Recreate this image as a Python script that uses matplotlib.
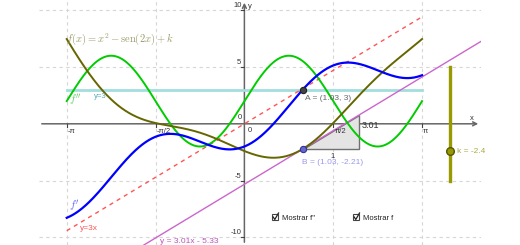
import numpy as np
import matplotlib
matplotlib.use("Agg")
import matplotlib.pyplot as plt
from matplotlib.patches import Polygon, Rectangle

plt.rcParams['font.family'] = ['Liberation Sans', 'DejaVu Sans']
plt.rcParams['mathtext.fontset'] = 'cm'

# values
k = -2.4
x_from, x_to = -np.pi, np.pi
A = (1.03, 3.0)
B = (1.03, -2.21)
slope, intercept = 3.01, -5.33
line_y3 = 3.0
line_3x = 3.0
slider_min, slider_max, slider_x = -5.0, 5.0, 3.63

x_ticks = [-np.pi, -np.pi / 2, np.pi / 2, np.pi]
x_tick_labels = ['-π', '-π/2', 'π/2', 'π']
y_ticks = [-10, -5, 5, 10]
y_tick_labels = ['-10', '-5', '5', '10']

# the curves of the worksheet: f(x) = x^2 - sen(2x) + k and its derivatives
x = np.linspace(x_from, x_to, 600)
f = x**2 - np.sin(2 * x) + k
f1 = 2 * x - 2 * np.cos(2 * x)
f2 = 2 + 4 * np.sin(2 * x)

W, H = 520, 245
fig = plt.figure(figsize=(W / 100, H / 100), dpi=100)
ax = fig.add_axes([39 / W, 0, 442 / W, 1])
ax.set_xlim(-3.632, 4.184)
ax.set_ylim(-10.68, 10.91)
ax.axis('off')

# grid
for xv in x_ticks:
    ax.axvline(xv, color='#d6d6d6', ls=(0, (3, 3)), lw=0.8, zorder=0)
for yv in y_ticks:
    ax.axhline(yv, color='#d6d6d6', ls=(0, (3, 3)), lw=0.8, zorder=0)

# axes with arrows
ax.annotate('', xy=(4.184, 0), xytext=(-3.632, 0),
            arrowprops=dict(arrowstyle='->', color='#666666', lw=1.1, mutation_scale=7), zorder=1)
ax.annotate('', xy=(0, 10.91), xytext=(0, -10.68),
            arrowprops=dict(arrowstyle='->', color='#666666', lw=1.1, mutation_scale=7), zorder=1)
for xv in x_ticks:
    ax.plot([xv, xv], [0, -0.3], color='#444444', lw=0.8, zorder=1)
for yv in y_ticks:
    ax.plot([0, -0.06], [yv, yv], color='#444444', lw=0.8, zorder=1)

# slope triangle at B
tri = Polygon([B, (B[0] + 1, B[1]), (B[0] + 1, B[1] + slope)], closed=True,
              facecolor='#e4e4e4', edgecolor='#707070', lw=1.0, zorder=2)
ax.add_patch(tri)

# lines
ax.plot([x_from, x_to], [line_y3, line_y3], color='#a3dede', lw=2.0, zorder=3)
ax.plot([x_from, x_to], [line_3x * x_from, line_3x * x_to], color='#ff5555',
        lw=1.0, ls=(0, (3, 3)), zorder=3)
xl = np.array([-3.632, 4.184])
ax.plot(xl, slope * xl + intercept, color='#cc66cc', lw=1.0, zorder=3)

# curves
ax.plot(x, f2, color='#00cc00', lw=1.4, zorder=4)
ax.plot(x, f, color='#666600', lw=1.4, zorder=4)
ax.plot(x, f1, color='#0000ff', lw=1.6, zorder=4)

# points
ax.plot(*A, 'o', ms=4.5, mfc='#444444', mec='#222222', mew=0.8, zorder=6)
ax.plot(*B, 'o', ms=4.5, mfc='#6666cc', mec='#333399', mew=0.8, zorder=6)

# slider k
ax.plot([slider_x, slider_x], [slider_min, slider_max], color='#999900', lw=2.4, zorder=5)
ax.plot(slider_x, k, 'o', ms=5.5, mfc='#999900', mec='#555500', mew=1.0, zorder=6)

# overlay in pixel coordinates for the texts
ov = fig.add_axes([0, 0, 1, 1])
ov.set_xlim(0, W)
ov.set_ylim(H, 0)
ov.axis('off')
ov.patch.set_alpha(0)

def px(xd, yd):
    return 244.4 + 56.55 * xd, 123.8 - 11.35 * yd

s = 5.5
for xv, lab in zip(x_ticks, x_tick_labels):
    X, Y = px(xv, 0)
    ov.text(X + 1, Y + 4, lab, fontsize=s, color='#333333', ha='left', va='top', zorder=7)
ov.text(248, 127, '0', fontsize=s, color='#333333', ha='left', va='top')
ov.text(242, 121, '0', fontsize=s, color='#333333', ha='right', va='bottom')
for yv, lab in zip(y_ticks, y_tick_labels):
    X, Y = px(0, yv)
    ov.text(X - 3, Y - 1, lab, fontsize=s, color='#333333', ha='right', va='bottom')
ov.text(248, 6, 'y', fontsize=s, color='#333333', ha='left', va='center')
ov.text(472, 118, 'x', fontsize=s, color='#333333', ha='center', va='center')

ov.text(66, 39, r'$f(x) = x^2 - \mathrm{sen}(2x) + k$', fontsize=7.6,
        color='#9a9a68', ha='left', va='center')
ov.text(69, 100, r"$f''$", fontsize=8, color='#66cc66', ha='left', va='center')
ov.text(69, 206, r"$f'$", fontsize=8, color='#6666ff', ha='left', va='center')
ov.text(94, 96, 'y=3', fontsize=s, color='#55aabb', ha='left', va='center', zorder=0)
ov.text(80, 228, 'y=3x', fontsize=s + 0.5, color='#ff5555', ha='left', va='center')
ov.text(160, 241, 'y = 3.01x - 5.33', fontsize=s + 0.5, color='#bb55bb', ha='left', va='center')

Ax, Ay = px(*A)
ov.text(Ax + 2, Ay + 9, 'A = (1.03, 3)', fontsize=s + 0.5, color='#666666', ha='left', va='center')
Bx, By = px(*B)
ov.text(Bx - 1, By + 14, 'B = (1.03, -2.21)', fontsize=s + 0.5, color='#9999ee', ha='left', va='center')
ov.text(Bx + 30, By + 8, '1', fontsize=s, color='#333333', ha='center', va='center')
ov.text(Bx + 59, By - 23, '3.01', fontsize=s + 1, color='#333333', ha='left', va='center')
Kx, Ky = px(slider_x, k)
ov.text(Kx + 7, Ky, 'k = -2.4', fontsize=s + 0.5, color='#aaaa44', ha='left', va='center')

# checkboxes
for cx, lab in [(272, "Mostrar f''"), (353, 'Mostrar f')]:
    ov.add_patch(Rectangle((cx, 214), 6, 6, facecolor='white', edgecolor='#444444', lw=0.8))
    ov.plot([cx + 1.2, cx + 2.8, cx + 6.5], [217, 219.5, 213], color='#222222', lw=0.9)
    ov.text(cx + 10, 218, lab, fontsize=s, color='#222222', ha='left', va='center')

fig.savefig('out.png', dpi=100)
